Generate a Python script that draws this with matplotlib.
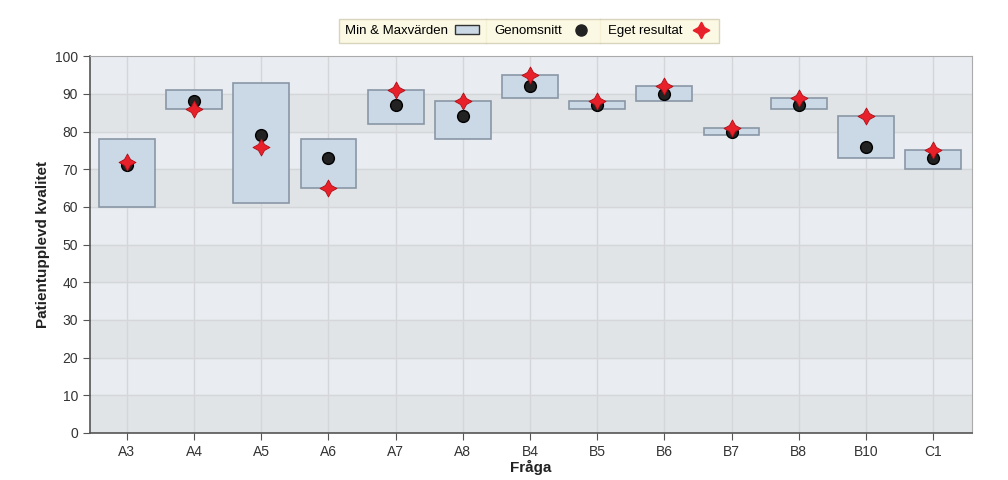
import matplotlib.pyplot as plt
from matplotlib.patches import Rectangle

plt.rcParams['font.family'] = ['Liberation Sans', 'DejaVu Sans']

questions = ["A3", "A4", "A5", "A6", "A7", "A8", "B4", "B5", "B6", "B7", "B8", "B10", "C1"]
min_vals = [60, 86, 61, 65, 82, 78, 89, 86, 88, 79, 86, 73, 70]
max_vals = [78, 91, 93, 78, 91, 88, 95, 88, 92, 81, 89, 84, 75]
mean_vals = [71, 88, 79, 73, 87, 84, 92, 87, 90, 80, 87, 76, 73]
own_vals = [72, 86, 76, 65, 91, 88, 95, 88, 92, 81, 89, 84, 75]

fig = plt.figure(figsize=(10.08, 4.8), dpi=100)
ax = fig.add_axes([0.0893, 0.098, 0.875, 0.785])

# banded background
ax.set_facecolor('#e9ecf0')
for y0 in range(0, 100, 20):
    ax.axhspan(y0, y0 + 10, color='#e1e4e7', zorder=0)
for y in range(10, 100, 10):
    ax.axhline(y, color='#d4d6d9', lw=1, zorder=0.5)
for i in range(len(questions)):
    ax.axvline(i, color='#d4d6d9', lw=1, zorder=0.5)

w = 0.83
for i, (lo, hi) in enumerate(zip(min_vals, max_vals)):
    ax.add_patch(Rectangle((i - w / 2, lo), w, hi - lo, facecolor='#cbd8e5',
                           edgecolor='#8a97a6', lw=1.2, zorder=2))

x = list(range(len(questions)))
ax.scatter(x, mean_vals, s=72, color='#222222', edgecolor='#000000', zorder=3)
ax.scatter(x, own_vals, s=150, marker=(4, 1, 0), color='#e8202a',
           edgecolor='#b01018', lw=0.6, zorder=4)

ax.set_xlim(-0.55, 12.58)
ax.set_ylim(0, 100)
ax.set_yticks(range(0, 101, 10))
ax.set_xticks(x)
ax.set_xticklabels(questions)
ax.tick_params(colors='#555555', labelsize=10, length=5, labelcolor='#333333')
for side in ['top', 'right']:
    ax.spines[side].set_color('#aaaaaa')
for side in ['left', 'bottom']:
    ax.spines[side].set_color('#555555')
    ax.spines[side].set_linewidth(1.2)

ax.set_ylabel("Patientupplevd kvalitet", fontsize=11, fontweight='bold', color='#222222')
ax.set_xlabel("Fråga", fontsize=11, fontweight='bold', color='#222222', labelpad=1)

# legend
h1 = Rectangle((0, 0), 1, 1, facecolor='#cbd8e5', edgecolor='#333333', lw=1)
h2 = plt.Line2D([], [], ls='', marker='o', color='#222222', markersize=8)
h3 = plt.Line2D([], [], ls='', marker=(4, 1, 0), color='#e8202a', markersize=12)
leg = fig.legend([h1, h2, h3], ["Min & Maxvärden", "Genomsnitt", "Eget resultat"],
                 loc='center', bbox_to_anchor=(0.525, 0.935), ncol=3, markerfirst=False,
                 frameon=True, fancybox=False, facecolor='#fbf8dc', edgecolor='#cfcbb0',
                 fontsize=9.5, handlelength=1.8, handletextpad=0.5, columnspacing=1.2,
                 borderpad=0.45)
leg.get_frame().set_linewidth(1)

# vertical separators between legend cells
fig.canvas.draw()
r = fig.canvas.get_renderer()
fb = leg.get_frame().get_window_extent(r)
gap = 1.2 * 9.5 * fig.dpi / 72
for t in leg.get_texts()[1:]:
    xs = t.get_window_extent(r).x0 - gap / 2
    xf = xs / fig.bbox.width
    fig.add_artist(plt.Line2D([xf, xf], [fb.y0 / fig.bbox.height, fb.y1 / fig.bbox.height],
                              color='#dcd8b8', lw=1, transform=fig.transFigure))

fig.savefig("out.png", dpi=100)
